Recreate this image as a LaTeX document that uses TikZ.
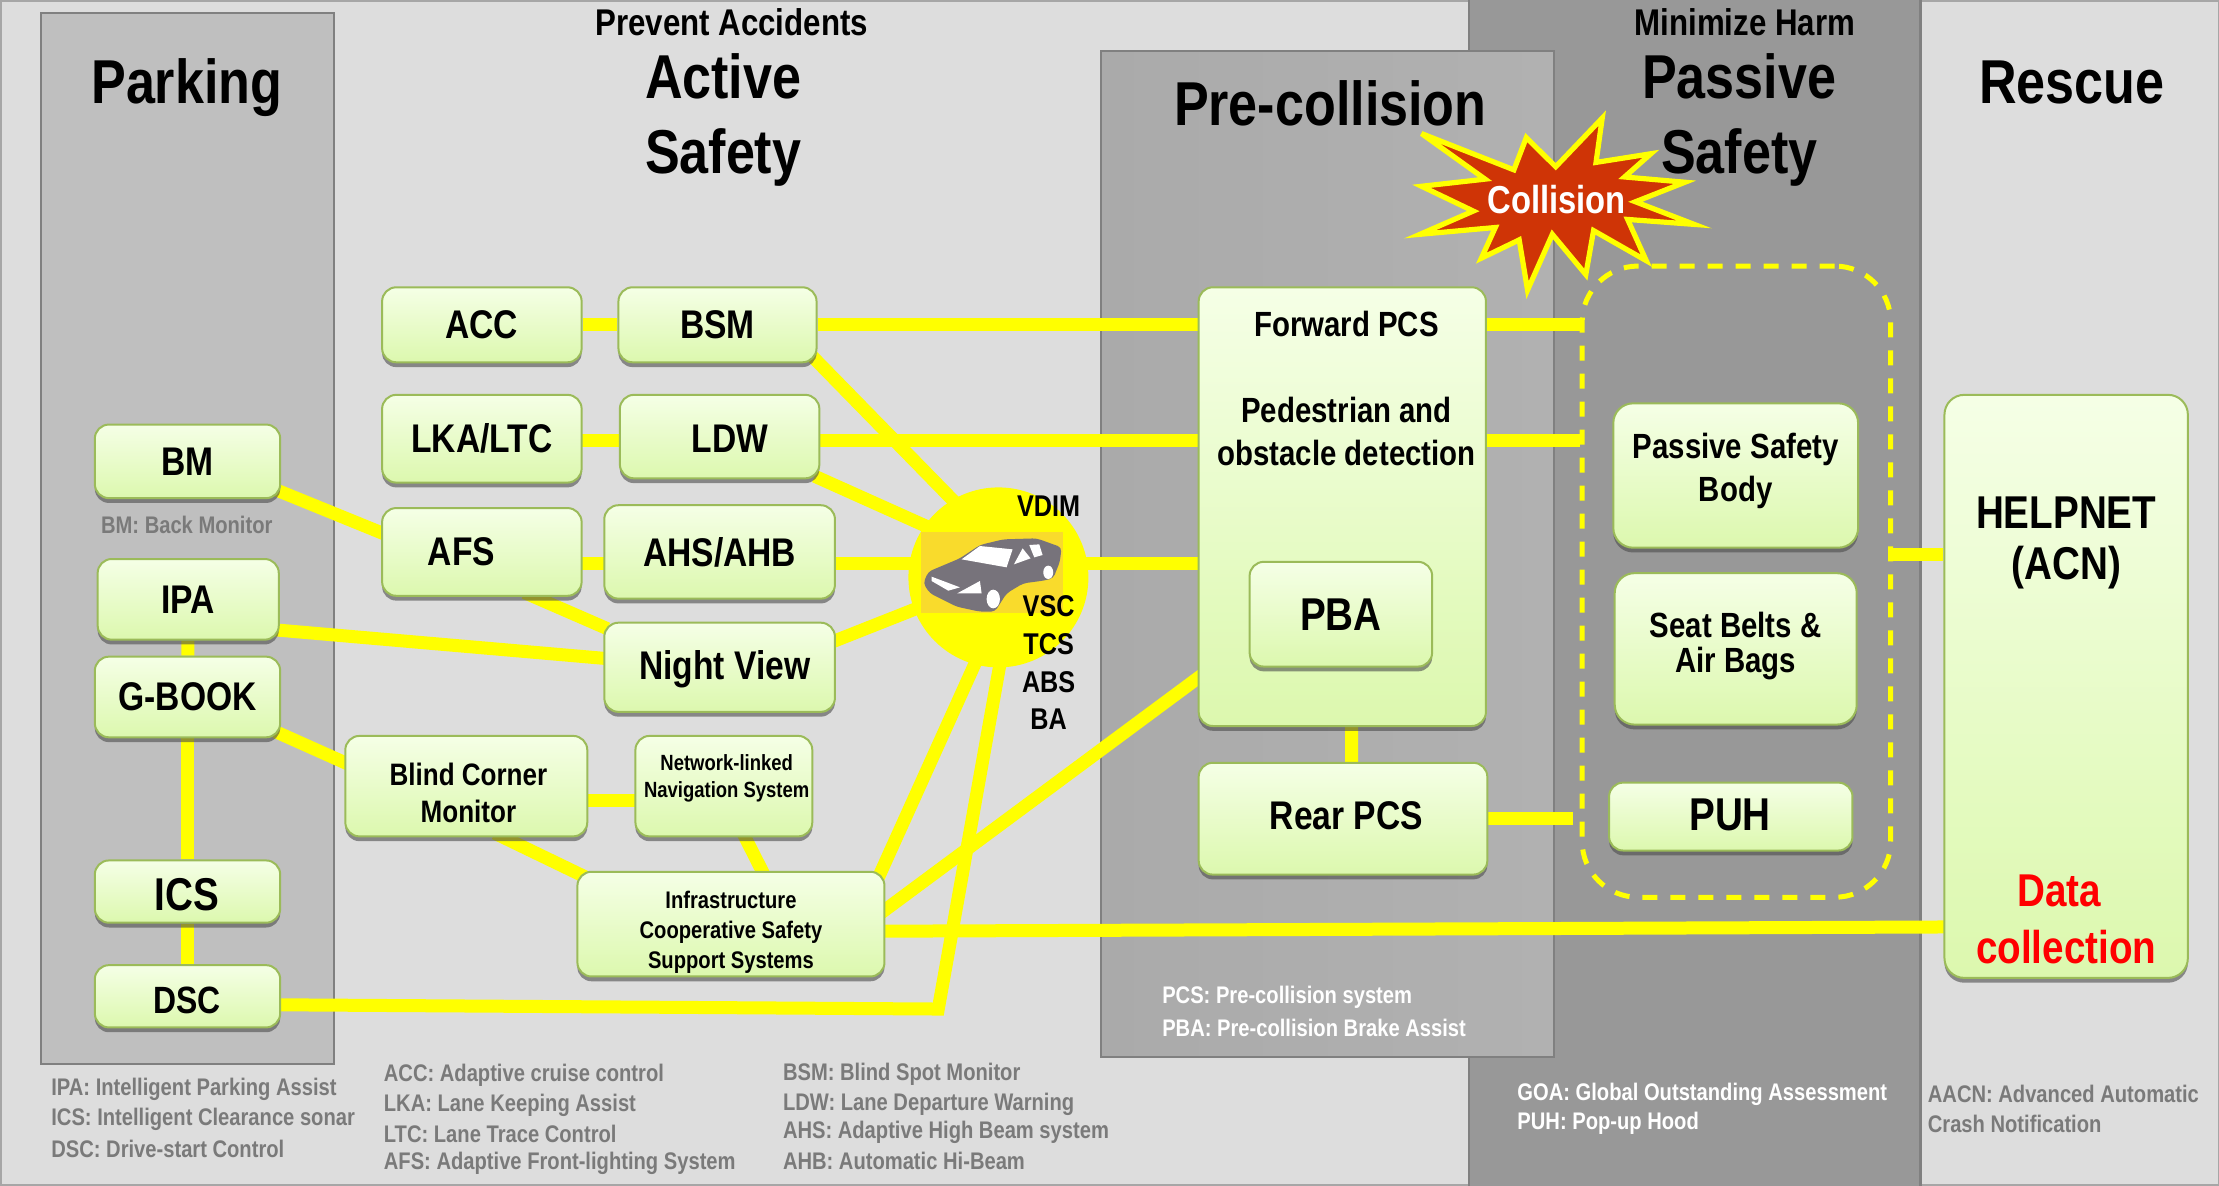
\documentclass[tikz,border=0pt]{standalone}
\usepackage{fontspec}
\setmainfont{Liberation Sans}[FakeStretch=0.84]
\usetikzlibrary{calc,shadows}
\definecolor{pagebg}{HTML}{DDDDDD}
\definecolor{band}{HTML}{989898}
\definecolor{parkbg}{HTML}{BFBFBF}
\definecolor{preL}{HTML}{AAAAAA}
\definecolor{preR}{HTML}{B1B1B1}
\definecolor{edge}{HTML}{808080}
\definecolor{boxedge}{HTML}{9BBB59}
\definecolor{boxtop}{HTML}{F5FFE6}
\definecolor{boxbot}{HTML}{DCF8AE}
\definecolor{linky}{HTML}{FFFF00}
\definecolor{burst}{HTML}{CF3406}
\definecolor{carbg}{HTML}{F9DB2C}
\definecolor{cargray}{HTML}{77737B}
\definecolor{legendg}{HTML}{7A7A7A}
\pgfdeclarelayer{bg}\pgfdeclarelayer{conn}
\pgfsetlayers{bg,conn,main}
\newcommand\fz[1]{\fontsize{#1pt}{#1pt}\selectfont\bfseries}
\newcommand\fl[2]{\fontsize{#1pt}{#2pt}\selectfont\bfseries}
% [radius]{name}{x0}{y0}{x1}{y1}{font}{text}
\newcommand\bx[8][10]{%
  \pgfmathsetmacro\cxx{(#3+#5)/2}\pgfmathsetmacro\cyy{(#4+#6)/2}%
  \pgfmathsetmacro\www{(#5-#3)*0.70759}\pgfmathsetmacro\hhh{(#6-#4)*0.70759}%
  \pgfmathsetmacro\rrr{#1*0.70759}%
  \node[gbox,rounded corners=\rrr pt,minimum width=\www pt,minimum height=\hhh pt,font=#7] (#2) at (\cxx,\cyy) {#8};}
\tikzset{
  gbox/.style={draw=boxedge,line width=1pt,top color=boxtop,bottom color=boxbot,inner sep=0pt,align=center,
    drop shadow={shadow xshift=0pt,shadow yshift=-2.4pt,opacity=.6,fill=black!70}},
  link/.style={draw=linky,line width=6.5pt},
  panel/.style={draw=edge,line width=1.1pt},
  title/.style={inner sep=0pt,font=\fz{31},align=center},
  head/.style={inner sep=0pt,font=\fz{18.6}},
  hubt/.style={inner sep=0pt,font=\fz{15}},
  boxt/.style={inner sep=0pt,font=\fz{20}},
  leg/.style={inner sep=0pt,anchor=west,font=\fz{12},text=legendg},
  legw/.style={leg,text=white},
}
\begin{document}
\begin{tikzpicture}[x=0.70759pt,y=-0.70759pt]
\useasboundingbox (0,0) rectangle (1568,838.05);
\begin{pgfonlayer}{bg}
\fill[pagebg] (0,0) rectangle (1568,838.05);
\draw[draw=black!35,line width=.8pt] (0.5,0.5) rectangle (1567.5,837.5);
\draw[panel,fill=band] (1038,-2) rectangle (1357,840);
\draw[panel,fill=parkbg] (29,9) rectangle (236,752);
\draw[panel,left color=preL,right color=preR] (778,36) rectangle (1098,747);
\end{pgfonlayer}

\node[title] (tpark) at (132,62) {Parking};
\node[head] (tprev) at (517,16) {Prevent Accidents};
\node[title] (tact1) at (511,54) {Active};
\node[title] (tact2) at (511,111) {Safety};
\node[title] (tpre) at (940,73) {Pre-collision};
\node[head] (tmin) at (1233,16) {Minimize Harm};
\node[title] (tpas1) at (1229,54) {Passive};
\node[title] (tpas2) at (1229,111) {Safety};
\node[title] (tres) at (1464,58) {Rescue};

\bx{acc}{270}{203}{411}{256}{\fz{20}}{ACC}
\bx{bsm}{437}{203}{577}{256}{\fz{20}}{BSM}
\bx{lka}{270}{279}{411}{341}{\fz{20}}{LKA/LTC}
\bx{ldw}{438}{279}{579}{338}{\fz{20}}{}
\bx{afs}{270}{359}{411}{421}{\fz{20}}{}
\bx{ahs}{427}{357}{590}{423}{\fz{20}}{AHS/AHB}
\bx{night}{427}{440}{590}{503}{\fz{20}}{}
\bx{bm}{67}{300}{198}{352}{\fz{20}}{BM}
\bx{ipa}{69}{395}{197}{452}{\fz{20}}{IPA}
\bx{gbook}{67}{464}{198}{521}{\fz{20}}{G-BOOK}
\bx{ics}{67}{608}{198}{652}{\fz{23}}{}
\bx{dsc}{67}{682}{198}{726}{\fz{19}}{}
\bx{blind}{244}{520}{415}{591}{\fl{15.5}{18.5}}{}
\bx{net}{449}{520}{574}{591}{\fl{11}{13.5}}{}
\bx{infra}{408}{616}{625}{690}{\fl{12}{15}}{}
\bx{fwd}{847}{203}{1050}{513}{\fz{20}}{}
\bx{pba}{883}{397}{1012}{471}{\fz{23}}{PBA}
\bx{rear}{847}{539}{1051}{618}{\fz{20}}{}
\bx[14]{psb}{1140}{285}{1313}{387}{\fl{17.5}{21.5}}{}
\bx[14]{seat}{1141}{405}{1312}{512}{\fl{17.5}{17.7}}{}
\bx{puh}{1137}{553}{1309}{601}{\fz{23}}{}
\bx[14]{help}{1374}{279}{1546}{691}{\fz{20}}{}

\node[boxt] (tldw) at (516,310) {LDW};
\node[boxt] (tafs) at (326,390) {AFS};
\node[boxt] (tnight) at (512,473) {Night View};
\node[inner sep=0pt,font=\fz{23}] (tics) at (132,632) {ICS};
\node[inner sep=0pt,font=\fz{19}] (tdsc) at (132,707) {DSC};
\node[boxt] (trear) at (951.5,576.5) {Rear PCS};
\node[inner sep=0pt,font=\fz{23}] (tpuh) at (1222.5,576) {PUH};
\node[inner sep=0pt,align=center,font=\fl{15.5}{18.5}] (tblind) at (331,560) {Blind Corner\\Monitor};
\node[inner sep=0pt,align=center,font=\fl{11}{13.5}] (tnet) at (513.5,550) {Network-linked\\Navigation System};
\node[inner sep=0pt,align=center,font=\fl{12}{15}] (tinfra) at (516.5,659) {Infrastructure\\Cooperative Safety\\Support Systems};
\node[inner sep=0pt,align=center,font=\fl{17.5}{21.5}] (tpsb) at (1226.5,333) {Passive Safety\\Body};
\node[inner sep=0pt,align=center,font=\fl{17.5}{17.7}] (tseat) at (1226.5,456.5) {Seat Belts \&\\Air Bags};

\node[circle,fill=linky,minimum size=90pt,inner sep=0pt] (hub) at (705.5,408) {};
\node[draw=linky,line width=2.5pt,dash pattern=on 7.5pt off 6.5pt,rounded corners=28pt,minimum width=154.3pt,minimum height=315.6pt,inner sep=0pt] (dash) at (1227,411) {};

\coordinate (row2) at (700,311);
\coordinate (row3) at (700,398);
\coordinate (bridge) at (1355,392);
\coordinate (bend) at (663,713);

\begin{pgfonlayer}{conn}
\draw[link] (acc) -- (bsm);
\draw[link] (bsm) -- (bsm -| fwd);
\draw[link] (bsm -| fwd.east) -- (bsm -| dash.west);
\draw[link] ($(bsm.east)+(-5,21)$) -- ($(hub)+(-15,-37)$);
\draw[link] (row2 -| lka) -- (row2 -| ldw);
\draw[link] (row2 -| ldw) -- (row2 -| fwd);
\draw[link] (row2 -| fwd.east) -- (row2 -| dash.west);
\draw[link] ($(ldw.east)+(-4,28)$) -- ($(hub)+(-15,-20)$);
\draw[link] (row3 -| afs) -- (row3 -| hub);
\draw[link] (row3 -| hub) -- (row3 -| fwd);
\draw[link] ($(afs.south)+(30,-3)$) -- ($(night.north west)+(3,5)$);
\draw[link] ($(night.east)+(-5,-17)$) -- ($(hub)+(-25,9)$);
\draw[link] ($(bm.east)+(-4,20)$) -- ($(afs.west)+(4,-12)$);
\draw[link] ($(ipa.east)+(-4,21.5)$) -- ($(night.west)+(4,-6)$);
\draw[link] (ipa) -- (gbook);
\draw[link] (gbook) -- (ics);
\draw[link] (ics) -- (dsc);
\draw[link] ($(gbook.east)+(-4,24.5)$) -- ($(blind.west)+(4,-15)$);
\draw[link] ($(blind.east)+(-3,10)$) -- ($(net.west)+(3,10)$);
\draw[link] ($(blind.south)+(20,-3)$) -- ($(infra.west)+(7,-33)$);
\draw[link] ($(net.south)+(13.5,-3)$) -- ($(infra.north)+(23.5,3)$);
\draw[link] ($(infra.east)+(-5,-33)$) -- ($(hub)+(-8,42)$);
\draw[link] ($(infra.east)+(-3,-8)$) -- ($(fwd.west)+(3,119)$);
\draw[link] ($(infra.east)+(-3,5)$) -- ($(help.west)+(3,170)$);
\draw[link,line join=miter] ($(dsc.east)+(-3,6)$) -- (bend) -- ($(hub)+(4,45)$);
\draw[link] ($(fwd.south)+(6.5,-3)$) -- ($(rear.north)+(6,3)$);
\draw[link] ($(rear.east)+(-3,0)$) -- ($(dash.west |- rear)+(-5,0)$);
\draw[link] (bridge -| dash.east) -- (bridge -| help.west);
\end{pgfonlayer}

% car
\fill[carbg] (651,376) rectangle (751,433);
\begin{scope}[shift={(621.8,318)},x=0.16663pt,y=-0.16663pt]
\fill[cargray,rounded corners=2pt] (130,400) -- (145,365) -- (240,325) -- (300,285) -- (370,268) -- (470,265) -- (545,292) -- (540,335) -- (520,385) -- (490,392) -- (430,400) -- (380,430) -- (345,485) -- (300,485) -- (230,470) -- (150,430) -- cycle;
\fill[white] (245,328) -- (300,288) -- (398,298) -- (380,352) -- cycle;
\fill[white] (402,343) -- (428,295) -- (452,325) -- cycle;
\fill[white] (448,285) -- (478,283) -- (488,315) -- (463,322) -- cycle;
\fill[white] (155,380) -- (240,412) -- (205,422) -- (155,393) -- cycle;
\fill[white] (232,430) -- (300,393) -- (305,430) -- cycle;
\fill[white] (340,447) ellipse [x radius=20,y radius=28];
\fill[white] (505,367) ellipse [x radius=15,y radius=20];
\end{scope}

\node[hubt] (vdim) at (741,358) {VDIM};
\node[hubt] (vsc) at (741,428) {VSC};
\node[hubt] (tcs) at (741,455) {TCS};
\node[hubt] (abs) at (741,482) {ABS};
\node[hubt] (ba) at (741,508) {BA};

% burst
\begin{scope}[shift={(972.6,63.6)},x=0.16663pt,y=-0.16663pt]
\draw[fill=burst,draw=linky,line width=2.6pt,miter limit=8,scale around={0.93:(540,340)}]
 (105,115) -- (403,232) -- (443,128) -- (538,222) -- (688,65) -- (668,208) -- (845,180) -- (760,255) -- (955,272) -- (795,335) -- (985,408) -- (770,392) -- (830,525) -- (660,428) -- (635,570) -- (527,440) -- (447,620) -- (420,458) -- (298,517) -- (343,418) -- (100,440) -- (272,365) -- (105,285) -- (310,262) -- cycle;
\end{scope}
\node[inner sep=0pt,font=\fz{19.5},text=white] (coll) at (1100,141) {Collision};

\node[inner sep=0pt,font=\fz{17.5}] (f1) at (951.5,229) {Forward PCS};
\node[inner sep=0pt,align=center,font=\fl{17.5}{21.5}] (f2) at (951.5,305) {Pedestrian and\\obstacle detection};
\node[inner sep=0pt,align=center,font=\fl{23}{25.5}] (h1) at (1460,384) {HELPNET\\(ACN)};
\node[inner sep=0pt,align=center,text=red,font=\fl{23}{28.5}] (h2) at (1460,650) {Data\hspace*{7pt}\\collection};

\node[leg,anchor=center] (lbm) at (132,371) {BM: Back Monitor};
\node[leg] (l1) at (36,770) {IPA: Intelligent Parking Assist};
\node[leg] (l2) at (36,791) {ICS: Intelligent Clearance sonar};
\node[leg] (l3) at (36,812) {DSC: Drive-start Control};
\node[leg] (l4) at (271,760) {ACC: Adaptive cruise control};
\node[leg] (l5) at (271,781) {LKA: Lane Keeping Assist};
\node[leg] (l6) at (271,801) {LTC: Lane Trace Control};
\node[leg] (l7) at (271,822) {AFS: Adaptive Front-lighting System};
\node[leg] (l8) at (553,759) {BSM: Blind Spot Monitor};
\node[leg] (l9) at (553,780) {LDW: Lane Departure Warning};
\node[leg] (l10) at (553,800) {AHS: Adaptive High Beam system};
\node[leg] (l11) at (553,820) {AHB: Automatic Hi-Beam};
\node[legw] (l12) at (821,705) {PCS: Pre-collision system};
\node[legw] (l13) at (821,726) {PBA: Pre-collision Brake Assist};
\node[legw] (l14) at (1072,773) {GOA: Global Outstanding Assessment};
\node[legw] (l15) at (1072,794) {PUH: Pop-up Hood};
\node[leg] (l16) at (1362,773) {AACN: Advanced Automatic};
\node[leg] (l17) at (1362,794) {Crash Notification};
\end{tikzpicture}
\end{document}
